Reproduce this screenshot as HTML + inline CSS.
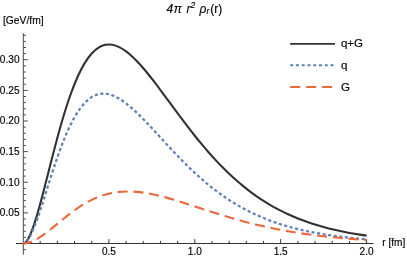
<!DOCTYPE html>
<html><head><meta charset="utf-8"><style>html,body{margin:0;padding:0;background:#fff;overflow:hidden}#w{width:407px;height:257px;will-change:transform}svg{display:block}</style></head>
<body><div id="w"><svg width="407" height="257" viewBox="0 0 407 257">
<g stroke="#333" stroke-width="1" fill="none">
<line x1="16" y1="243.5" x2="373.5" y2="243.5"/>
<line x1="23.3" y1="33.1" x2="23.3" y2="254.7" stroke="#484848"/>
<line x1="40.18" y1="243.5" x2="40.18" y2="240.9"/>
<line x1="57.36" y1="243.5" x2="57.36" y2="240.9"/>
<line x1="74.54" y1="243.5" x2="74.54" y2="240.9"/>
<line x1="91.72" y1="243.5" x2="91.72" y2="240.9"/>
<line x1="108.90" y1="243.5" x2="108.90" y2="239.1"/>
<line x1="126.08" y1="243.5" x2="126.08" y2="240.9"/>
<line x1="143.26" y1="243.5" x2="143.26" y2="240.9"/>
<line x1="160.44" y1="243.5" x2="160.44" y2="240.9"/>
<line x1="177.62" y1="243.5" x2="177.62" y2="240.9"/>
<line x1="194.80" y1="243.5" x2="194.80" y2="239.1"/>
<line x1="211.98" y1="243.5" x2="211.98" y2="240.9"/>
<line x1="229.16" y1="243.5" x2="229.16" y2="240.9"/>
<line x1="246.34" y1="243.5" x2="246.34" y2="240.9"/>
<line x1="263.52" y1="243.5" x2="263.52" y2="240.9"/>
<line x1="280.70" y1="243.5" x2="280.70" y2="239.1"/>
<line x1="297.88" y1="243.5" x2="297.88" y2="240.9"/>
<line x1="315.06" y1="243.5" x2="315.06" y2="240.9"/>
<line x1="332.24" y1="243.5" x2="332.24" y2="240.9"/>
<line x1="349.42" y1="243.5" x2="349.42" y2="240.9"/>
<line x1="366.60" y1="243.5" x2="366.60" y2="239.1"/>
<line x1="23.3" y1="249.62" x2="25.9" y2="249.62" stroke="#484848"/>
<line x1="23.3" y1="237.38" x2="25.9" y2="237.38" stroke="#484848"/>
<line x1="23.3" y1="231.25" x2="25.9" y2="231.25" stroke="#484848"/>
<line x1="23.3" y1="225.12" x2="25.9" y2="225.12" stroke="#484848"/>
<line x1="23.3" y1="219.00" x2="25.9" y2="219.00" stroke="#484848"/>
<line x1="23.3" y1="212.88" x2="27.8" y2="212.88" stroke="#484848"/>
<line x1="23.3" y1="206.75" x2="25.9" y2="206.75" stroke="#484848"/>
<line x1="23.3" y1="200.62" x2="25.9" y2="200.62" stroke="#484848"/>
<line x1="23.3" y1="194.50" x2="25.9" y2="194.50" stroke="#484848"/>
<line x1="23.3" y1="188.38" x2="25.9" y2="188.38" stroke="#484848"/>
<line x1="23.3" y1="182.25" x2="27.8" y2="182.25" stroke="#484848"/>
<line x1="23.3" y1="176.12" x2="25.9" y2="176.12" stroke="#484848"/>
<line x1="23.3" y1="170.00" x2="25.9" y2="170.00" stroke="#484848"/>
<line x1="23.3" y1="163.88" x2="25.9" y2="163.88" stroke="#484848"/>
<line x1="23.3" y1="157.75" x2="25.9" y2="157.75" stroke="#484848"/>
<line x1="23.3" y1="151.62" x2="27.8" y2="151.62" stroke="#484848"/>
<line x1="23.3" y1="145.50" x2="25.9" y2="145.50" stroke="#484848"/>
<line x1="23.3" y1="139.38" x2="25.9" y2="139.38" stroke="#484848"/>
<line x1="23.3" y1="133.25" x2="25.9" y2="133.25" stroke="#484848"/>
<line x1="23.3" y1="127.12" x2="25.9" y2="127.12" stroke="#484848"/>
<line x1="23.3" y1="121.00" x2="27.8" y2="121.00" stroke="#484848"/>
<line x1="23.3" y1="114.88" x2="25.9" y2="114.88" stroke="#484848"/>
<line x1="23.3" y1="108.75" x2="25.9" y2="108.75" stroke="#484848"/>
<line x1="23.3" y1="102.62" x2="25.9" y2="102.62" stroke="#484848"/>
<line x1="23.3" y1="96.50" x2="25.9" y2="96.50" stroke="#484848"/>
<line x1="23.3" y1="90.38" x2="27.8" y2="90.38" stroke="#484848"/>
<line x1="23.3" y1="84.25" x2="25.9" y2="84.25" stroke="#484848"/>
<line x1="23.3" y1="78.12" x2="25.9" y2="78.12" stroke="#484848"/>
<line x1="23.3" y1="72.00" x2="25.9" y2="72.00" stroke="#484848"/>
<line x1="23.3" y1="65.88" x2="25.9" y2="65.88" stroke="#484848"/>
<line x1="23.3" y1="59.75" x2="27.8" y2="59.75" stroke="#484848"/>
<line x1="23.3" y1="53.62" x2="25.9" y2="53.62" stroke="#484848"/>
<line x1="23.3" y1="47.50" x2="25.9" y2="47.50" stroke="#484848"/>
<line x1="23.3" y1="41.38" x2="25.9" y2="41.38" stroke="#484848"/>
<line x1="23.3" y1="35.25" x2="25.9" y2="35.25" stroke="#484848"/>
</g>
<g font-family="Liberation Sans, sans-serif" font-size="10.1" fill="#000" stroke="#000" stroke-width="0.15">
<text x="108.9" y="255.1" text-anchor="middle">0.5</text>
<text x="194.8" y="255.1" text-anchor="middle">1.0</text>
<text x="280.7" y="255.1" text-anchor="middle">1.5</text>
<text x="366.6" y="255.1" text-anchor="middle">2.0</text>
<text x="19.5" y="216.3" text-anchor="end">0.05</text>
<text x="19.5" y="185.7" text-anchor="end">0.10</text>
<text x="19.5" y="155.0" text-anchor="end">0.15</text>
<text x="19.5" y="124.4" text-anchor="end">0.20</text>
<text x="19.5" y="93.8" text-anchor="end">0.25</text>
<text x="19.5" y="63.1" text-anchor="end">0.30</text>
<text x="3" y="23.9" font-size="10.3">[GeV/fm]</text>
<text x="382.3" y="245.6">r [fm]</text>
</g>
<g font-family="Liberation Sans, sans-serif" font-size="11.5" fill="#000" stroke="#000" stroke-width="0.15">
<text x="340.9" y="47.0">q+G</text><text x="340.9" y="69.3">q</text><text x="340.9" y="90.9">G</text>
</g>
<g font-family="Liberation Sans, sans-serif" font-size="12" fill="#000" stroke="#000" stroke-width="0.15" font-style="italic">
<text x="166.4" y="12.6">4</text><text x="173.8" y="12.6">π</text><text x="186.5" y="12.6">r</text>
<text x="190.4" y="7.7" font-size="8.5">2</text><text x="199.5" y="12.6">ρ</text><text x="206.6" y="13.8" font-size="8.5">r</text>
<text x="210.3" y="12.6" font-style="normal">(r)</text>
</g>
<defs><filter id="bl" x="-5%" y="-5%" width="110%" height="110%"><feGaussianBlur stdDeviation="0.4"/></filter></defs>
<g fill="none" stroke-linecap="butt" filter="url(#bl)">
<path d="M23.000,243.500 C25.291,243.499 27.581,240.398 29.872,235.478 C32.163,230.558 34.453,223.813 36.744,216.157 C39.035,208.501 41.325,199.929 43.616,191.075 C45.907,182.221 48.197,173.081 50.488,164.080 C52.779,155.079 55.069,146.214 57.360,137.754 C59.651,129.295 61.941,121.238 64.232,113.741 C66.523,106.244 68.813,99.304 71.104,92.997 C73.395,86.690 75.685,81.015 77.976,75.990 C80.267,70.964 82.557,66.588 84.848,62.841 C87.139,59.094 89.429,55.976 91.720,53.442 C94.011,50.907 96.301,48.957 98.592,47.532 C100.883,46.107 103.173,45.206 105.464,44.764 C107.755,44.323 110.045,44.340 112.336,44.748 C114.627,45.155 116.917,45.953 119.208,47.076 C121.499,48.198 123.789,49.645 126.080,51.353 C128.371,53.061 130.661,55.030 132.952,57.204 C135.243,59.377 137.533,61.755 139.824,64.285 C142.115,66.815 144.405,69.497 146.696,72.288 C148.987,75.078 151.277,77.975 153.568,80.941 C155.859,83.907 158.149,86.942 160.440,90.011 C162.731,93.081 165.021,96.186 167.312,99.299 C169.603,102.412 171.893,105.533 174.184,108.639 C176.475,111.745 178.765,114.836 181.056,117.894 C183.347,120.952 185.637,123.978 187.928,126.956 C190.219,129.934 192.509,132.866 194.800,135.739 C197.091,138.613 199.381,141.429 201.672,144.179 C203.963,146.930 206.253,149.615 208.544,152.229 C210.835,154.843 213.125,157.386 215.416,159.856 C217.707,162.325 219.997,164.721 222.288,167.041 C224.579,169.361 226.869,171.606 229.160,173.775 C231.451,175.944 233.741,178.038 236.032,180.057 C238.323,182.077 240.613,184.021 242.904,185.894 C245.195,187.766 247.485,189.565 249.776,191.295 C252.067,193.025 254.357,194.684 256.648,196.277 C258.939,197.870 261.229,199.395 263.520,200.857 C265.811,202.319 268.101,203.718 270.392,205.056 C272.683,206.395 274.973,207.673 277.264,208.895 C279.555,210.117 281.845,211.283 284.136,212.396 C286.427,213.509 288.717,214.570 291.008,215.582 C293.299,216.593 295.589,217.556 297.880,218.474 C300.171,219.391 302.461,220.264 304.752,221.095 C307.043,221.925 309.333,222.714 311.624,223.465 C313.915,224.215 316.205,224.927 318.496,225.604 C320.787,226.281 323.077,226.923 325.368,227.533 C327.659,228.142 329.949,228.720 332.240,229.268 C334.531,229.816 336.821,230.335 339.112,230.827 C341.403,231.320 343.693,231.785 345.984,232.226 C348.275,232.668 350.565,233.085 352.856,233.480 C355.147,233.875 357.437,234.249 359.728,234.602 C362.019,234.956 364.309,235.289 366.600,235.605" stroke="#333" stroke-width="2.1"/>
<path d="M23.000,243.500 C25.291,243.499 27.581,240.828 29.872,236.663 C32.163,232.498 34.453,226.831 36.744,220.473 C39.035,214.116 41.325,207.062 43.616,199.857 C45.907,192.651 48.197,185.291 50.488,178.126 C52.779,170.961 55.069,163.989 57.360,157.422 C59.651,150.855 61.941,144.689 64.232,139.039 C66.523,133.388 68.813,128.251 71.104,123.670 C73.395,119.089 75.685,115.063 77.976,111.590 C80.267,108.116 82.557,105.195 84.848,102.792 C87.139,100.390 89.429,98.505 91.720,97.090 C94.011,95.674 96.301,94.726 98.592,94.187 C100.883,93.648 103.173,93.517 105.464,93.732 C107.755,93.947 110.045,94.508 112.336,95.353 C114.627,96.198 116.917,97.328 119.208,98.684 C121.499,100.040 123.789,101.622 126.080,103.377 C128.371,105.133 130.661,107.062 132.952,109.117 C135.243,111.173 137.533,113.355 139.824,115.623 C142.115,117.890 144.405,120.244 146.696,122.648 C148.987,125.053 151.277,127.508 153.568,129.986 C155.859,132.463 158.149,134.963 160.440,137.461 C162.731,139.959 165.021,142.455 167.312,144.931 C169.603,147.407 171.893,149.862 174.184,152.283 C176.475,154.703 178.765,157.088 181.056,159.426 C183.347,161.765 185.637,164.057 187.928,166.295 C190.219,168.533 192.509,170.717 194.800,172.840 C197.091,174.964 199.381,177.028 201.672,179.029 C203.963,181.030 206.253,182.968 208.544,184.842 C210.835,186.715 213.125,188.524 215.416,190.269 C217.707,192.013 219.997,193.693 222.288,195.309 C224.579,196.925 226.869,198.477 229.160,199.968 C231.451,201.459 233.741,202.887 236.032,204.257 C238.323,205.626 240.613,206.936 242.904,208.189 C245.195,209.443 247.485,210.640 249.776,211.784 C252.067,212.927 254.357,214.018 256.648,215.058 C258.939,216.098 261.229,217.089 263.520,218.032 C265.811,218.976 268.101,219.874 270.392,220.728 C272.683,221.582 274.973,222.393 277.264,223.164 C279.555,223.935 281.845,224.667 284.136,225.361 C286.427,226.056 288.717,226.715 291.008,227.339 C293.299,227.964 295.589,228.556 297.880,229.117 C300.171,229.678 302.461,230.208 304.752,230.711 C307.043,231.213 309.333,231.688 311.624,232.138 C313.915,232.588 316.205,233.013 318.496,233.415 C320.787,233.817 323.077,234.196 325.368,234.555 C327.659,234.914 329.949,235.252 332.240,235.572 C334.531,235.892 336.821,236.193 339.112,236.478 C341.403,236.762 343.693,237.031 345.984,237.284 C348.275,237.537 350.565,237.776 352.856,238.001 C355.147,238.226 357.437,238.437 359.728,238.637 C362.019,238.837 364.309,239.025 366.600,239.202" stroke="#5e81b5" stroke-width="2.2" stroke-dasharray="3.1,2.526" stroke-dashoffset="0.8"/>
<path d="M23.000,243.500 C25.291,243.500 27.581,243.070 29.872,242.315 C32.163,241.561 34.453,240.482 36.744,239.184 C39.035,237.885 41.325,236.367 43.616,234.718 C45.907,233.070 48.197,231.290 50.488,229.454 C52.779,227.618 55.069,225.725 57.360,223.832 C59.651,221.940 61.941,220.049 64.232,218.202 C66.523,216.355 68.813,214.553 71.104,212.827 C73.395,211.102 75.685,209.452 77.976,207.900 C80.267,206.348 82.557,204.893 84.848,203.549 C87.139,202.205 89.429,200.970 91.720,199.852 C94.011,198.733 96.301,197.731 98.592,196.845 C100.883,195.959 103.173,195.189 105.464,194.533 C107.755,193.876 110.045,193.332 112.336,192.894 C114.627,192.457 116.917,192.125 119.208,191.892 C121.499,191.659 123.789,191.523 126.080,191.475 C128.371,191.428 130.661,191.468 132.952,191.586 C135.243,191.704 137.533,191.900 139.824,192.162 C142.115,192.424 144.405,192.754 146.696,193.139 C148.987,193.525 151.277,193.967 153.568,194.456 C155.859,194.944 158.149,195.479 160.440,196.051 C162.731,196.622 165.021,197.231 167.312,197.868 C169.603,198.505 171.893,199.170 174.184,199.856 C176.475,200.542 178.765,201.248 181.056,201.968 C183.347,202.687 185.637,203.421 187.928,204.161 C190.219,204.901 192.509,205.649 194.800,206.399 C197.091,207.149 199.381,207.901 201.672,208.650 C203.963,209.399 206.253,210.146 208.544,210.887 C210.835,211.628 213.125,212.362 215.416,213.087 C217.707,213.812 219.997,214.528 222.288,215.232 C224.579,215.936 226.869,216.629 229.160,217.307 C231.451,217.986 233.741,218.651 236.032,219.301 C238.323,219.951 240.613,220.585 242.904,221.204 C245.195,221.823 247.485,222.426 249.776,223.012 C252.067,223.597 254.357,224.167 256.648,224.719 C258.939,225.271 261.229,225.807 263.520,226.325 C265.811,226.843 268.101,227.344 270.392,227.828 C272.683,228.313 274.973,228.780 277.264,229.231 C279.555,229.682 281.845,230.116 284.136,230.535 C286.427,230.953 288.717,231.355 291.008,231.742 C293.299,232.129 295.589,232.501 297.880,232.857 C300.171,233.214 302.461,233.556 304.752,233.884 C307.043,234.212 309.333,234.526 311.624,234.826 C313.915,235.127 316.205,235.414 318.496,235.689 C320.787,235.964 323.077,236.227 325.368,236.478 C327.659,236.729 329.949,236.968 332.240,237.196 C334.531,237.425 336.821,237.642 339.112,237.850 C341.403,238.057 343.693,238.255 345.984,238.443 C348.275,238.631 350.565,238.809 352.856,238.980 C355.147,239.150 357.437,239.311 359.728,239.465 C362.019,239.619 364.309,239.764 366.600,239.903" stroke="#EC683D" stroke-width="2.1" stroke-dasharray="10.05,5.72" stroke-dashoffset="0.9"/>
<line x1="290.2" x2="335" y1="43.9" y2="43.9" stroke="#333" stroke-width="1.9"/>
<line x1="290.2" x2="335" y1="65.3" y2="65.3" stroke="#5e81b5" stroke-width="1.9" stroke-dasharray="3,2.76"/>
<line x1="290.2" x2="335" y1="87" y2="87" stroke="#EC683D" stroke-width="1.9" stroke-dasharray="10,5.95"/>
</g>
</svg></div></body></html>
